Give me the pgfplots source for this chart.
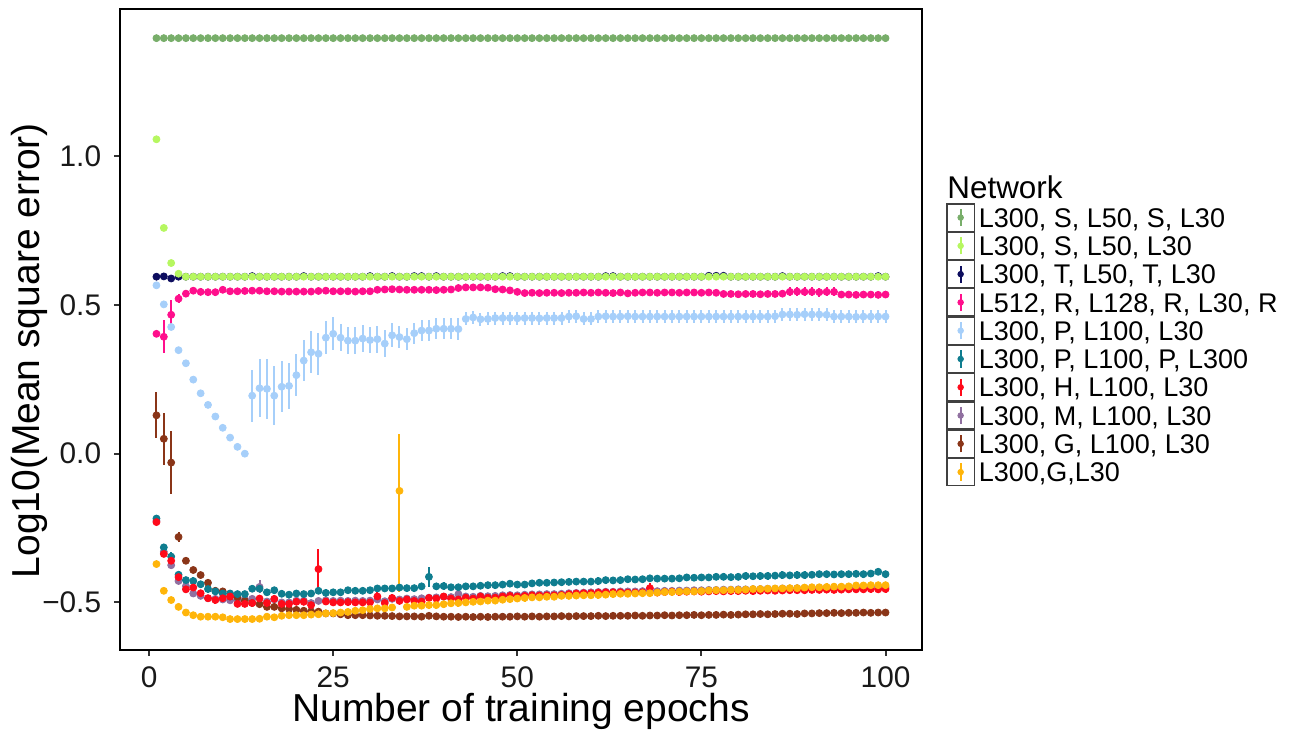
\documentclass[border=0pt]{standalone}
\usepackage{pgfplots}
\pgfplotsset{compat=1.18}
\usepackage{fontspec}
\setmainfont{Liberation Sans}
\definecolor{cGreen}{HTML}{78AE6A}
\definecolor{cLime}{HTML}{B6F760}
\definecolor{cNavy}{HTML}{0D0D5E}
\definecolor{cPink}{HTML}{FF0F8C}
\definecolor{cSky}{HTML}{A6CFFA}
\definecolor{cTeal}{HTML}{0F7D8F}
\definecolor{cRed}{HTML}{FF0A1A}
\definecolor{cPurple}{HTML}{9070A0}
\definecolor{cBrown}{HTML}{8A3518}
\definecolor{cOrange}{HTML}{FFB50A}
\pgfplotsset{
  keybox/.style={legend image code/.code={
    \draw[black!75, line width=0.6pt, fill=white] (0pt,-6.77pt) rectangle (13.6pt,6.77pt);
    \draw[line width=1pt] (6.8pt,-4.3pt) -- (6.8pt,4.3pt);
    \fill (6.8pt,0pt) circle (1.4pt);}},
  pt/.style={only marks, mark=*, mark size=1.75pt, forget plot},
  pr/.style={pt, error bars/y dir=both, error bars/y explicit, error bars/error mark=none,
    error bars/error bar style={line width=1pt}},
}
\begin{document}
\begin{tikzpicture}
\useasboundingbox (0,0) rectangle (646pt,368pt);
\begin{axis}[
  at={(60pt,43pt)}, anchor=south west,
  scale only axis, width=401pt, height=320.5pt,
  xmin=-3.95, xmax=104.95, ymin=-0.66, ymax=1.495,
  xtick={0,25,50,75,100}, xticklabels={0,25,50,75,100},
  ytick={-0.5,0,0.5,1.0}, yticklabels={−0.5,0.0,0.5,1.0},
  tick align=outside, major tick length=2.75pt,
  tick style={line width=1pt, black!80},
  axis line style={line width=1pt, black},
  xtick pos=bottom, ytick pos=left,
  ticklabel style={font=\fontsize{14.9}{15}\selectfont, text=black!90},
  xticklabel style={inner sep=0pt, anchor=north, yshift=-5.5pt},
  yticklabel style={inner sep=0pt, anchor=east, xshift=-6.5pt},
  xlabel={Number of training epochs},
  ylabel={Log10(Mean square error)},
  every axis x label/.style={at={(rel axis cs:0.5,-0.1123)}, anchor=base,
    font=\fontsize{19.5}{20}\selectfont},
  every axis y label/.style={at={(rel axis cs:-0.0998,0.467)}, rotate=90, anchor=base,
    font=\fontsize{19.5}{20}\selectfont},
  legend style={at={(rel axis cs:1.030,0.6973)}, anchor=north west, draw=none, fill=none,
    inner sep=0pt, row sep=0pt,
    nodes={inner xsep=2pt, inner ysep=0pt, text height=9.7pt, text depth=0pt,
      font=\fontsize{13.5}{14}\selectfont}},
  legend cell align=left,
]
\addlegendimage{keybox, color=cGreen}
\addlegendimage{keybox, color=cLime}
\addlegendimage{keybox, color=cNavy}
\addlegendimage{keybox, color=cPink}
\addlegendimage{keybox, color=cSky}
\addlegendimage{keybox, color=cTeal}
\addlegendimage{keybox, color=cRed}
\addlegendimage{keybox, color=cPurple}
\addlegendimage{keybox, color=cBrown}
\addlegendimage{keybox, color=cOrange}
\legend{{L300, S, L50, S, L30},{L300, S, L50, L30},{L300, T, L50, T, L30},{L512, R, L128, R, L30, R},{L300, P, L100, L30},{L300, P, L100, P, L300},{L300, H, L100, L30},{L300, M, L100, L30},{L300, G, L100, L30},{L300,G,L30}}

% L300, S, L50, S, L30
\addplot[pt, color=cGreen] coordinates {
(1,1.397) (2,1.397) (3,1.397) (4,1.397) (5,1.397) (6,1.397) (7,1.397) (8,1.397) (9,1.397) (10,1.397)
(11,1.397) (12,1.397) (13,1.397) (14,1.397) (15,1.397) (16,1.397) (17,1.397) (18,1.397) (19,1.397) (20,1.397)
(21,1.397) (22,1.397) (23,1.397) (24,1.397) (25,1.397) (26,1.397) (27,1.397) (28,1.397) (29,1.397) (30,1.397)
(31,1.397) (32,1.397) (33,1.397) (34,1.397) (35,1.397) (36,1.397) (37,1.397) (38,1.397) (39,1.397) (40,1.397)
(41,1.397) (42,1.397) (43,1.397) (44,1.397) (45,1.397) (46,1.397) (47,1.397) (48,1.397) (49,1.397) (50,1.397)
(51,1.397) (52,1.397) (53,1.397) (54,1.397) (55,1.397) (56,1.397) (57,1.397) (58,1.397) (59,1.397) (60,1.397)
(61,1.397) (62,1.397) (63,1.397) (64,1.397) (65,1.397) (66,1.397) (67,1.397) (68,1.397) (69,1.397) (70,1.397)
(71,1.397) (72,1.397) (73,1.397) (74,1.397) (75,1.397) (76,1.397) (77,1.397) (78,1.397) (79,1.397) (80,1.397)
(81,1.397) (82,1.397) (83,1.397) (84,1.397) (85,1.397) (86,1.397) (87,1.397) (88,1.397) (89,1.397) (90,1.397)
(91,1.397) (92,1.397) (93,1.397) (94,1.397) (95,1.397) (96,1.397) (97,1.397) (98,1.397) (99,1.397) (100,1.397)
};

% L300, T, L50, T, L30
\addplot[pt, color=cNavy] coordinates {
(1,0.595) (2,0.596) (3,0.589) (4,0.595) (5,0.595) (6,0.595) (7,0.595) (8,0.595) (9,0.595) (10,0.595)
(11,0.595) (12,0.595) (13,0.595) (14,0.597) (15,0.595) (16,0.595) (17,0.595) (18,0.595) (19,0.595) (20,0.595)
(21,0.597) (22,0.595) (23,0.595) (24,0.595) (25,0.595) (26,0.595) (27,0.595) (28,0.595) (29,0.595) (30,0.597)
(31,0.595) (32,0.595) (33,0.597) (34,0.595) (35,0.595) (36,0.597) (37,0.597) (38,0.595) (39,0.597) (40,0.595)
(41,0.595) (42,0.595) (43,0.595) (44,0.595) (45,0.595) (46,0.595) (47,0.595) (48,0.597) (49,0.597) (50,0.595)
(51,0.595) (52,0.595) (53,0.595) (54,0.595) (55,0.595) (56,0.595) (57,0.595) (58,0.595) (59,0.595) (60,0.595)
(61,0.595) (62,0.597) (63,0.597) (64,0.595) (65,0.595) (66,0.595) (67,0.595) (68,0.595) (69,0.595) (70,0.595)
(71,0.595) (72,0.595) (73,0.595) (74,0.595) (75,0.595) (76,0.598) (77,0.598) (78,0.598) (79,0.595) (80,0.595)
(81,0.595) (82,0.595) (83,0.595) (84,0.595) (85,0.595) (86,0.597) (87,0.595) (88,0.595) (89,0.595) (90,0.595)
(91,0.595) (92,0.595) (93,0.595) (94,0.595) (95,0.595) (96,0.595) (97,0.595) (98,0.595) (99,0.597) (100,0.595)
};

% L300, S, L50, L30
\addplot[pt, color=cLime] coordinates {
(1,1.057) (2,0.759) (3,0.641) (4,0.605) (5,0.595) (6,0.595) (7,0.595) (8,0.595) (9,0.595) (10,0.595)
(11,0.595) (12,0.595) (13,0.595) (14,0.595) (15,0.595) (16,0.595) (17,0.595) (18,0.595) (19,0.595) (20,0.595)
(21,0.595) (22,0.595) (23,0.595) (24,0.595) (25,0.595) (26,0.595) (27,0.595) (28,0.595) (29,0.595) (30,0.595)
(31,0.595) (32,0.595) (33,0.595) (34,0.595) (35,0.595) (36,0.595) (37,0.595) (38,0.595) (39,0.595) (40,0.595)
(41,0.595) (42,0.595) (43,0.595) (44,0.595) (45,0.595) (46,0.595) (47,0.595) (48,0.595) (49,0.595) (50,0.595)
(51,0.595) (52,0.595) (53,0.595) (54,0.595) (55,0.595) (56,0.595) (57,0.595) (58,0.595) (59,0.595) (60,0.595)
(61,0.595) (62,0.595) (63,0.595) (64,0.595) (65,0.595) (66,0.595) (67,0.595) (68,0.595) (69,0.595) (70,0.595)
(71,0.595) (72,0.595) (73,0.595) (74,0.595) (75,0.595) (76,0.595) (77,0.595) (78,0.595) (79,0.595) (80,0.595)
(81,0.595) (82,0.595) (83,0.595) (84,0.595) (85,0.595) (86,0.595) (87,0.595) (88,0.595) (89,0.595) (90,0.595)
(91,0.595) (92,0.595) (93,0.595) (94,0.595) (95,0.595) (96,0.595) (97,0.595) (98,0.595) (99,0.595) (100,0.595)
};

% L512, R, L128, R, L30, R
\addplot[pr, color=cPink] coordinates {
(1,0.403) +- (0,0) (2,0.393) +- (0,0.056) (3,0.467) +- (0,0.049) (4,0.521) +- (0,0.015) (5,0.538) +- (0,0.012)
(6,0.548) +- (0,0.012) (7,0.544) +- (0,0.012) (8,0.543) +- (0,0.012) (9,0.543) +- (0,0.012) (10,0.551) +- (0,0.012)
(11,0.546) +- (0,0.01) (12,0.546) +- (0,0.01) (13,0.547) +- (0,0.01) (14,0.548) +- (0,0.01) (15,0.548) +- (0,0.01)
(16,0.546) +- (0,0.01) (17,0.546) +- (0,0.01) (18,0.545) +- (0,0.01) (19,0.545) +- (0,0.01) (20,0.545) +- (0,0.01)
(21,0.545) +- (0,0.01) (22,0.545) +- (0,0.01) (23,0.547) +- (0,0.01) (24,0.548) +- (0,0.01) (25,0.546) +- (0,0.01)
(26,0.546) +- (0,0.01) (27,0.546) +- (0,0.01) (28,0.545) +- (0,0.01) (29,0.546) +- (0,0.01) (30,0.546) +- (0,0.01)
(31,0.551) +- (0,0.01) (32,0.552) +- (0,0.01) (33,0.553) +- (0,0.01) (34,0.552) +- (0,0.01) (35,0.551) +- (0,0.01)
(36,0.551) +- (0,0.01) (37,0.551) +- (0,0.01) (38,0.551) +- (0,0.01) (39,0.550) +- (0,0.01) (40,0.551) +- (0,0.01)
(41,0.552) +- (0,0.01) (42,0.557) +- (0,0.01) (43,0.559) +- (0,0.01) (44,0.559) +- (0,0.01) (45,0.559) +- (0,0.01)
(46,0.558) +- (0,0.01) (47,0.553) +- (0,0.01) (48,0.552) +- (0,0.01) (49,0.549) +- (0,0.01) (50,0.544) +- (0,0.01)
(51,0.540) +- (0,0.01) (52,0.541) +- (0,0.01) (53,0.540) +- (0,0.01) (54,0.541) +- (0,0.01) (55,0.541) +- (0,0.01)
(56,0.540) +- (0,0.01) (57,0.541) +- (0,0.01) (58,0.541) +- (0,0.01) (59,0.542) +- (0,0.01) (60,0.541) +- (0,0.01)
(61,0.542) +- (0,0.01) (62,0.541) +- (0,0.01) (63,0.540) +- (0,0.01) (64,0.542) +- (0,0.01) (65,0.539) +- (0,0.01)
(66,0.541) +- (0,0.01) (67,0.542) +- (0,0.01) (68,0.542) +- (0,0.01) (69,0.541) +- (0,0.01) (70,0.542) +- (0,0.01)
(71,0.542) +- (0,0.01) (72,0.541) +- (0,0.01) (73,0.542) +- (0,0.01) (74,0.542) +- (0,0.01) (75,0.541) +- (0,0.01)
(76,0.542) +- (0,0.01) (77,0.541) +- (0,0.01) (78,0.537) +- (0,0.01) (79,0.537) +- (0,0.01) (80,0.536) +- (0,0.01)
(81,0.537) +- (0,0.01) (82,0.537) +- (0,0.01) (83,0.536) +- (0,0.01) (84,0.537) +- (0,0.01) (85,0.537) +- (0,0.01)
(86,0.538) +- (0,0.01) (87,0.544) +- (0,0.015) (88,0.545) +- (0,0.015) (89,0.544) +- (0,0.015) (90,0.544) +- (0,0.015)
(91,0.543) +- (0,0.015) (92,0.544) +- (0,0.015) (93,0.544) +- (0,0.015) (94,0.535) +- (0,0.01) (95,0.535) +- (0,0.01)
(96,0.534) +- (0,0.01) (97,0.535) +- (0,0.01) (98,0.535) +- (0,0.01) (99,0.534) +- (0,0.01) (100,0.535) +- (0,0.01)
};

% L300, P, L100, L30
\addplot[pr, color=cSky] coordinates {
(1,0.566) +- (0,0) (2,0.502) +- (0,0) (3,0.426) +- (0,0) (4,0.348) +- (0,0) (5,0.304) +- (0,0)
(6,0.249) +- (0,0) (7,0.203) +- (0,0) (8,0.164) +- (0,0) (9,0.125) +- (0,0) (10,0.087) +- (0,0)
(11,0.054) +- (0,0) (12,0.023) +- (0,0) (13,0.000) +- (0,0) (14,0.195) +- (0,0.087) (15,0.220) +- (0,0.097)
(16,0.218) +- (0,0.100) (17,0.195) +- (0,0.100) (18,0.225) +- (0,0.085) (19,0.228) +- (0,0.078) (20,0.264) +- (0,0.070)
(21,0.313) +- (0,0.070) (22,0.341) +- (0,0.070) (23,0.336) +- (0,0.070) (24,0.390) +- (0,0.055) (25,0.403) +- (0,0.055)
(26,0.390) +- (0,0.045) (27,0.380) +- (0,0.045) (28,0.380) +- (0,0.045) (29,0.387) +- (0,0.045) (30,0.382) +- (0,0.045)
(31,0.385) +- (0,0.045) (32,0.370) +- (0,0.045) (33,0.398) +- (0,0.040) (34,0.392) +- (0,0.036) (35,0.385) +- (0,0.036)
(36,0.405) +- (0,0.036) (37,0.414) +- (0,0.036) (38,0.414) +- (0,0.036) (39,0.420) +- (0,0.036) (40,0.420) +- (0,0.036)
(41,0.420) +- (0,0.036) (42,0.419) +- (0,0.036) (43,0.453) +- (0,0.022) (44,0.458) +- (0,0.022) (45,0.452) +- (0,0.022)
(46,0.453) +- (0,0.022) (47,0.456) +- (0,0.022) (48,0.456) +- (0,0.022) (49,0.456) +- (0,0.022) (50,0.455) +- (0,0.022)
(51,0.456) +- (0,0.022) (52,0.456) +- (0,0.022) (53,0.455) +- (0,0.022) (54,0.456) +- (0,0.022) (55,0.456) +- (0,0.022)
(56,0.456) +- (0,0.022) (57,0.461) +- (0,0.022) (58,0.462) +- (0,0.022) (59,0.453) +- (0,0.022) (60,0.453) +- (0,0.022)
(61,0.461) +- (0,0.022) (62,0.462) +- (0,0.022) (63,0.461) +- (0,0.022) (64,0.461) +- (0,0.022) (65,0.462) +- (0,0.022)
(66,0.461) +- (0,0.022) (67,0.461) +- (0,0.022) (68,0.461) +- (0,0.022) (69,0.461) +- (0,0.022) (70,0.461) +- (0,0.022)
(71,0.461) +- (0,0.022) (72,0.461) +- (0,0.022) (73,0.461) +- (0,0.022) (74,0.461) +- (0,0.022) (75,0.461) +- (0,0.022)
(76,0.461) +- (0,0.022) (77,0.461) +- (0,0.022) (78,0.461) +- (0,0.022) (79,0.461) +- (0,0.022) (80,0.461) +- (0,0.022)
(81,0.461) +- (0,0.022) (82,0.461) +- (0,0.022) (83,0.461) +- (0,0.022) (84,0.461) +- (0,0.022) (85,0.462) +- (0,0.022)
(86,0.468) +- (0,0.022) (87,0.468) +- (0,0.022) (88,0.467) +- (0,0.022) (89,0.469) +- (0,0.022) (90,0.468) +- (0,0.022)
(91,0.468) +- (0,0.022) (92,0.467) +- (0,0.022) (93,0.461) +- (0,0.022) (94,0.461) +- (0,0.022) (95,0.461) +- (0,0.022)
(96,0.460) +- (0,0.022) (97,0.461) +- (0,0.022) (98,0.461) +- (0,0.022) (99,0.461) +- (0,0.022) (100,0.461) +- (0,0.022)
};

% L300, M, L100, L30
\addplot[pr, color=cPurple] coordinates {
(1,-0.226) +- (0,0.005) (2,-0.330) +- (0,0.01) (3,-0.375) +- (0,0.012) (4,-0.428) +- (0,0.01) (5,-0.445) +- (0,0.01)
(6,-0.470) +- (0,0.01) (7,-0.478) +- (0,0.01) (8,-0.486) +- (0,0.01) (9,-0.488) +- (0,0.01) (10,-0.490) +- (0,0.01)
(11,-0.493) +- (0,0.01) (12,-0.490) +- (0,0.01) (13,-0.490) +- (0,0.01) (14,-0.488) +- (0,0.01) (15,-0.448) +- (0,0.022)
(16,-0.497) +- (0,0.01) (17,-0.490) +- (0,0.01) (18,-0.500) +- (0,0.01) (19,-0.500) +- (0,0.01) (20,-0.494) +- (0,0.01)
(21,-0.494) +- (0,0.01) (22,-0.502) +- (0,0.01) (23,-0.495) +- (0,0.01) (24,-0.493) +- (0,0.01) (25,-0.495) +- (0,0.01)
(26,-0.494) +- (0,0.01) (27,-0.495) +- (0,0.01) (28,-0.494) +- (0,0.01) (29,-0.495) +- (0,0.01) (30,-0.494) +- (0,0.01)
(31,-0.490) +- (0,0.01) (32,-0.496) +- (0,0.01) (33,-0.488) +- (0,0.01) (34,-0.490) +- (0,0.01) (35,-0.487) +- (0,0.01)
(36,-0.489) +- (0,0.01) (37,-0.486) +- (0,0.01) (38,-0.484) +- (0,0.01) (39,-0.483) +- (0,0.01) (40,-0.481) +- (0,0.01)
(41,-0.482) +- (0,0.01) (42,-0.472) +- (0,0.01) (43,-0.480) +- (0,0.01) (44,-0.481) +- (0,0.01) (45,-0.478) +- (0,0.01)
(46,-0.479) +- (0,0.01) (47,-0.478) +- (0,0.01) (48,-0.476) +- (0,0.01) (49,-0.475) +- (0,0.01) (50,-0.476) +- (0,0.01)
(51,-0.474) +- (0,0.01) (52,-0.473) +- (0,0.01) (53,-0.473) +- (0,0.01) (54,-0.472) +- (0,0.01) (55,-0.472) +- (0,0.01)
(56,-0.471) +- (0,0.01) (57,-0.469) +- (0,0.01) (58,-0.468) +- (0,0.01) (59,-0.467) +- (0,0.01) (60,-0.466) +- (0,0.01)
(61,-0.465) +- (0,0.01) (62,-0.464) +- (0,0.01) (63,-0.464) +- (0,0.01) (64,-0.463) +- (0,0.01) (65,-0.463) +- (0,0.01)
(66,-0.463) +- (0,0.01) (67,-0.462) +- (0,0.01) (68,-0.460) +- (0,0.01) (69,-0.462) +- (0,0.01) (70,-0.461) +- (0,0.01)
(71,-0.461) +- (0,0.01) (72,-0.460) +- (0,0.01) (73,-0.460) +- (0,0.01) (74,-0.459) +- (0,0.01) (75,-0.459) +- (0,0.01)
(76,-0.458) +- (0,0.01) (77,-0.458) +- (0,0.01) (78,-0.457) +- (0,0.01) (79,-0.457) +- (0,0.01) (80,-0.456) +- (0,0.01)
(81,-0.456) +- (0,0.01) (82,-0.455) +- (0,0.01) (83,-0.455) +- (0,0.01) (84,-0.454) +- (0,0.01) (85,-0.454) +- (0,0.01)
(86,-0.453) +- (0,0.01) (87,-0.453) +- (0,0.01) (88,-0.452) +- (0,0.01) (89,-0.452) +- (0,0.01) (90,-0.451) +- (0,0.01)
(91,-0.451) +- (0,0.01) (92,-0.450) +- (0,0.01) (93,-0.450) +- (0,0.01) (94,-0.449) +- (0,0.01) (95,-0.449) +- (0,0.01)
(96,-0.449) +- (0,0.01) (97,-0.448) +- (0,0.01) (98,-0.448) +- (0,0.01) (99,-0.448) +- (0,0.01) (100,-0.448) +- (0,0.01)
};

% L300, G, L100, L30
\addplot[pr, color=cBrown] coordinates {
(1,0.129) +- (0,0.077) (2,0.050) +- (0,0.088) (3,-0.030) +- (0,0.105) (4,-0.280) +- (0,0.017) (5,-0.360) +- (0,0.006)
(6,-0.391) +- (0,0.005) (7,-0.408) +- (0,0.005) (8,-0.434) +- (0,0.005) (9,-0.461) +- (0,0.005) (10,-0.463) +- (0,0.005)
(11,-0.480) +- (0,0.005) (12,-0.483) +- (0,0.005) (13,-0.495) +- (0,0.005) (14,-0.502) +- (0,0.005) (15,-0.506) +- (0,0.005)
(16,-0.515) +- (0,0.005) (17,-0.515) +- (0,0.005) (18,-0.520) +- (0,0.005) (19,-0.522) +- (0,0.005) (20,-0.525) +- (0,0.005)
(21,-0.528) +- (0,0.005) (22,-0.530) +- (0,0.005) (23,-0.531) +- (0,0.005) (24,-0.537) +- (0,0.005) (25,-0.537) +- (0,0.005)
(26,-0.540) +- (0,0.005) (27,-0.543) +- (0,0.005) (28,-0.543) +- (0,0.005) (29,-0.543) +- (0,0.005) (30,-0.544) +- (0,0.005)
(31,-0.545) +- (0,0.005) (32,-0.545) +- (0,0.005) (33,-0.546) +- (0,0.005) (34,-0.547) +- (0,0.005) (35,-0.547) +- (0,0.005)
(36,-0.547) +- (0,0.005) (37,-0.548) +- (0,0.005) (38,-0.545) +- (0,0.005) (39,-0.547) +- (0,0.005) (40,-0.548) +- (0,0.005)
(41,-0.548) +- (0,0.005) (42,-0.549) +- (0,0.005) (43,-0.548) +- (0,0.005) (44,-0.549) +- (0,0.005) (45,-0.548) +- (0,0.005)
(46,-0.549) +- (0,0.005) (47,-0.548) +- (0,0.005) (48,-0.548) +- (0,0.005) (49,-0.548) +- (0,0.005) (50,-0.547) +- (0,0.005)
(51,-0.548) +- (0,0.005) (52,-0.547) +- (0,0.005) (53,-0.548) +- (0,0.005) (54,-0.547) +- (0,0.005) (55,-0.547) +- (0,0.005)
(56,-0.546) +- (0,0.005) (57,-0.547) +- (0,0.005) (58,-0.546) +- (0,0.005) (59,-0.546) +- (0,0.005) (60,-0.546) +- (0,0.005)
(61,-0.545) +- (0,0.005) (62,-0.546) +- (0,0.005) (63,-0.545) +- (0,0.005) (64,-0.545) +- (0,0.005) (65,-0.545) +- (0,0.005)
(66,-0.544) +- (0,0.005) (67,-0.545) +- (0,0.005) (68,-0.544) +- (0,0.005) (69,-0.544) +- (0,0.005) (70,-0.543) +- (0,0.005)
(71,-0.544) +- (0,0.005) (72,-0.543) +- (0,0.005) (73,-0.543) +- (0,0.005) (74,-0.542) +- (0,0.005) (75,-0.543) +- (0,0.005)
(76,-0.542) +- (0,0.005) (77,-0.542) +- (0,0.005) (78,-0.541) +- (0,0.005) (79,-0.542) +- (0,0.005) (80,-0.541) +- (0,0.005)
(81,-0.540) +- (0,0.005) (82,-0.540) +- (0,0.005) (83,-0.539) +- (0,0.005) (84,-0.540) +- (0,0.005) (85,-0.539) +- (0,0.005)
(86,-0.538) +- (0,0.005) (87,-0.538) +- (0,0.005) (88,-0.539) +- (0,0.005) (89,-0.537) +- (0,0.005) (90,-0.537) +- (0,0.005)
(91,-0.536) +- (0,0.005) (92,-0.536) +- (0,0.005) (93,-0.535) +- (0,0.005) (94,-0.536) +- (0,0.005) (95,-0.535) +- (0,0.005)
(96,-0.535) +- (0,0.005) (97,-0.534) +- (0,0.005) (98,-0.535) +- (0,0.005) (99,-0.534) +- (0,0.005) (100,-0.534) +- (0,0.005)
};

% L300, P, L100, P, L300
\addplot[pr, color=cTeal] coordinates {
(1,-0.218) +- (0,0.008) (2,-0.315) +- (0,0.012) (3,-0.346) +- (0,0.015) (4,-0.407) +- (0,0.012) (5,-0.425) +- (0,0.012)
(6,-0.428) +- (0,0.012) (7,-0.439) +- (0,0.012) (8,-0.455) +- (0,0.012) (9,-0.463) +- (0,0.012) (10,-0.470) +- (0,0.012)
(11,-0.470) +- (0,0.012) (12,-0.472) +- (0,0.012) (13,-0.472) +- (0,0.012) (14,-0.454) +- (0,0.012) (15,-0.454) +- (0,0.012)
(16,-0.466) +- (0,0.012) (17,-0.459) +- (0,0.012) (18,-0.471) +- (0,0.012) (19,-0.474) +- (0,0.012) (20,-0.470) +- (0,0.012)
(21,-0.472) +- (0,0.012) (22,-0.470) +- (0,0.012) (23,-0.461) +- (0,0.012) (24,-0.468) +- (0,0.012) (25,-0.466) +- (0,0.012)
(26,-0.466) +- (0,0.012) (27,-0.459) +- (0,0.012) (28,-0.461) +- (0,0.012) (29,-0.461) +- (0,0.012) (30,-0.459) +- (0,0.012)
(31,-0.453) +- (0,0.012) (32,-0.453) +- (0,0.012) (33,-0.453) +- (0,0.012) (34,-0.450) +- (0,0.012) (35,-0.452) +- (0,0.012)
(36,-0.452) +- (0,0.012) (37,-0.446) +- (0,0.012) (38,-0.414) +- (0,0.034) (39,-0.446) +- (0,0.012) (40,-0.445) +- (0,0.012)
(41,-0.449) +- (0,0.012) (42,-0.449) +- (0,0.012) (43,-0.446) +- (0,0.012) (44,-0.446) +- (0,0.012) (45,-0.444) +- (0,0.012)
(46,-0.442) +- (0,0.012) (47,-0.442) +- (0,0.012) (48,-0.440) +- (0,0.012) (49,-0.437) +- (0,0.012) (50,-0.440) +- (0,0.012)
(51,-0.440) +- (0,0.012) (52,-0.436) +- (0,0.012) (53,-0.434) +- (0,0.012) (54,-0.434) +- (0,0.012) (55,-0.433) +- (0,0.012)
(56,-0.432) +- (0,0.012) (57,-0.431) +- (0,0.012) (58,-0.430) +- (0,0.012) (59,-0.430) +- (0,0.012) (60,-0.430) +- (0,0.012)
(61,-0.428) +- (0,0.012) (62,-0.425) +- (0,0.012) (63,-0.426) +- (0,0.012) (64,-0.425) +- (0,0.012) (65,-0.422) +- (0,0.012)
(66,-0.423) +- (0,0.012) (67,-0.422) +- (0,0.012) (68,-0.419) +- (0,0.012) (69,-0.420) +- (0,0.012) (70,-0.420) +- (0,0.012)
(71,-0.420) +- (0,0.012) (72,-0.419) +- (0,0.012) (73,-0.416) +- (0,0.012) (74,-0.417) +- (0,0.012) (75,-0.416) +- (0,0.012)
(76,-0.416) +- (0,0.012) (77,-0.414) +- (0,0.012) (78,-0.414) +- (0,0.012) (79,-0.415) +- (0,0.012) (80,-0.414) +- (0,0.012)
(81,-0.411) +- (0,0.012) (82,-0.412) +- (0,0.012) (83,-0.411) +- (0,0.012) (84,-0.411) +- (0,0.012) (85,-0.410) +- (0,0.012)
(86,-0.408) +- (0,0.012) (87,-0.409) +- (0,0.012) (88,-0.408) +- (0,0.012) (89,-0.408) +- (0,0.012) (90,-0.407) +- (0,0.012)
(91,-0.405) +- (0,0.012) (92,-0.405) +- (0,0.012) (93,-0.406) +- (0,0.012) (94,-0.405) +- (0,0.012) (95,-0.405) +- (0,0.012)
(96,-0.404) +- (0,0.012) (97,-0.405) +- (0,0.012) (98,-0.403) +- (0,0.012) (99,-0.397) +- (0,0.012) (100,-0.405) +- (0,0.012)
};

% L300, H, L100, L30
\addplot[pr, color=cRed] coordinates {
(1,-0.230) +- (0,0.006) (2,-0.337) +- (0,0.012) (3,-0.360) +- (0,0.020) (4,-0.415) +- (0,0.012) (5,-0.456) +- (0,0.012)
(6,-0.450) +- (0,0.020) (7,-0.469) +- (0,0.012) (8,-0.486) +- (0,0.012) (9,-0.492) +- (0,0.012) (10,-0.486) +- (0,0.012)
(11,-0.480) +- (0,0.012) (12,-0.505) +- (0,0.012) (13,-0.505) +- (0,0.012) (14,-0.502) +- (0,0.012) (15,-0.487) +- (0,0.012)
(16,-0.502) +- (0,0.012) (17,-0.488) +- (0,0.012) (18,-0.505) +- (0,0.012) (19,-0.505) +- (0,0.012) (20,-0.498) +- (0,0.012)
(21,-0.498) +- (0,0.012) (22,-0.509) +- (0,0.012) (23,-0.388) +- (0,0.068) (24,-0.497) +- (0,0.012) (25,-0.500) +- (0,0.012)
(26,-0.500) +- (0,0.012) (27,-0.499) +- (0,0.012) (28,-0.500) +- (0,0.012) (29,-0.500) +- (0,0.012) (30,-0.500) +- (0,0.012)
(31,-0.480) +- (0,0.020) (32,-0.502) +- (0,0.012) (33,-0.485) +- (0,0.012) (34,-0.495) +- (0,0.012) (35,-0.490) +- (0,0.012)
(36,-0.495) +- (0,0.012) (37,-0.497) +- (0,0.012) (38,-0.485) +- (0,0.012) (39,-0.487) +- (0,0.012) (40,-0.480) +- (0,0.012)
(41,-0.487) +- (0,0.012) (42,-0.490) +- (0,0.012) (43,-0.484) +- (0,0.012) (44,-0.487) +- (0,0.012) (45,-0.480) +- (0,0.012)
(46,-0.484) +- (0,0.012) (47,-0.484) +- (0,0.012) (48,-0.480) +- (0,0.012) (49,-0.478) +- (0,0.012) (50,-0.480) +- (0,0.012)
(51,-0.478) +- (0,0.012) (52,-0.476) +- (0,0.012) (53,-0.477) +- (0,0.012) (54,-0.476) +- (0,0.012) (55,-0.476) +- (0,0.012)
(56,-0.475) +- (0,0.012) (57,-0.472) +- (0,0.012) (58,-0.470) +- (0,0.012) (59,-0.469) +- (0,0.012) (60,-0.469) +- (0,0.012)
(61,-0.467) +- (0,0.012) (62,-0.466) +- (0,0.012) (63,-0.466) +- (0,0.012) (64,-0.466) +- (0,0.012) (65,-0.467) +- (0,0.012)
(66,-0.467) +- (0,0.012) (67,-0.466) +- (0,0.012) (68,-0.452) +- (0,0.016) (69,-0.467) +- (0,0.012) (70,-0.465) +- (0,0.012)
(71,-0.464) +- (0,0.012) (72,-0.465) +- (0,0.012) (73,-0.464) +- (0,0.012) (74,-0.463) +- (0,0.012) (75,-0.464) +- (0,0.012)
(76,-0.463) +- (0,0.012) (77,-0.462) +- (0,0.012) (78,-0.463) +- (0,0.012) (79,-0.462) +- (0,0.012) (80,-0.462) +- (0,0.012)
(81,-0.461) +- (0,0.012) (82,-0.462) +- (0,0.012) (83,-0.461) +- (0,0.012) (84,-0.460) +- (0,0.012) (85,-0.461) +- (0,0.012)
(86,-0.460) +- (0,0.012) (87,-0.459) +- (0,0.012) (88,-0.459) +- (0,0.012) (89,-0.459) +- (0,0.012) (90,-0.458) +- (0,0.012)
(91,-0.458) +- (0,0.012) (92,-0.457) +- (0,0.012) (93,-0.458) +- (0,0.012) (94,-0.457) +- (0,0.012) (95,-0.456) +- (0,0.012)
(96,-0.456) +- (0,0.012) (97,-0.456) +- (0,0.012) (98,-0.455) +- (0,0.012) (99,-0.456) +- (0,0.012) (100,-0.455) +- (0,0.012)
};

% L300,G,L30
\addplot[pr, color=cOrange] coordinates {
(1,-0.371) +- (0,0.004) (2,-0.461) +- (0,0.004) (3,-0.492) +- (0,0.004) (4,-0.515) +- (0,0.004) (5,-0.534) +- (0,0.004)
(6,-0.543) +- (0,0.004) (7,-0.548) +- (0,0.004) (8,-0.548) +- (0,0.004) (9,-0.548) +- (0,0.004) (10,-0.550) +- (0,0.004)
(11,-0.556) +- (0,0.004) (12,-0.556) +- (0,0.004) (13,-0.556) +- (0,0.004) (14,-0.556) +- (0,0.004) (15,-0.555) +- (0,0.004)
(16,-0.548) +- (0,0.004) (17,-0.550) +- (0,0.004) (18,-0.545) +- (0,0.004) (19,-0.543) +- (0,0.004) (20,-0.543) +- (0,0.004)
(21,-0.543) +- (0,0.004) (22,-0.541) +- (0,0.004) (23,-0.540) +- (0,0.004) (24,-0.537) +- (0,0.004) (25,-0.536) +- (0,0.004)
(26,-0.534) +- (0,0.004) (27,-0.532) +- (0,0.004) (28,-0.528) +- (0,0.004) (29,-0.526) +- (0,0.004) (30,-0.522) +- (0,0.004)
(31,-0.520) +- (0,0.004) (32,-0.520) +- (0,0.004) (33,-0.517) +- (0,0.004) (34,-0.125) += (0,0.190) -= (0,0.340) (35,-0.515) +- (0,0.012)
(36,-0.511) +- (0,0.012) (37,-0.511) +- (0,0.012) (38,-0.509) +- (0,0.012) (39,-0.509) +- (0,0.012) (40,-0.506) +- (0,0.012)
(41,-0.503) +- (0,0.012) (42,-0.502) +- (0,0.012) (43,-0.500) +- (0,0.012) (44,-0.498) +- (0,0.012) (45,-0.497) +- (0,0.012)
(46,-0.494) +- (0,0.012) (47,-0.494) +- (0,0.012) (48,-0.491) +- (0,0.012) (49,-0.489) +- (0,0.012) (50,-0.487) +- (0,0.012)
(51,-0.485) +- (0,0.012) (52,-0.483) +- (0,0.012) (53,-0.483) +- (0,0.012) (54,-0.481) +- (0,0.012) (55,-0.481) +- (0,0.012)
(56,-0.478) +- (0,0.012) (57,-0.478) +- (0,0.012) (58,-0.477) +- (0,0.012) (59,-0.476) +- (0,0.012) (60,-0.476) +- (0,0.012)
(61,-0.475) +- (0,0.012) (62,-0.474) +- (0,0.012) (63,-0.472) +- (0,0.012) (64,-0.471) +- (0,0.012) (65,-0.471) +- (0,0.012)
(66,-0.470) +- (0,0.012) (67,-0.469) +- (0,0.012) (68,-0.469) +- (0,0.012) (69,-0.467) +- (0,0.012) (70,-0.465) +- (0,0.012)
(71,-0.465) +- (0,0.012) (72,-0.464) +- (0,0.012) (73,-0.463) +- (0,0.012) (74,-0.463) +- (0,0.012) (75,-0.462) +- (0,0.012)
(76,-0.460) +- (0,0.012) (77,-0.459) +- (0,0.012) (78,-0.459) +- (0,0.012) (79,-0.458) +- (0,0.012) (80,-0.458) +- (0,0.012)
(81,-0.457) +- (0,0.012) (82,-0.455) +- (0,0.012) (83,-0.455) +- (0,0.012) (84,-0.454) +- (0,0.012) (85,-0.453) +- (0,0.012)
(86,-0.453) +- (0,0.012) (87,-0.452) +- (0,0.012) (88,-0.452) +- (0,0.012) (89,-0.450) +- (0,0.012) (90,-0.449) +- (0,0.012)
(91,-0.449) +- (0,0.012) (92,-0.448) +- (0,0.012) (93,-0.447) +- (0,0.012) (94,-0.447) +- (0,0.012) (95,-0.446) +- (0,0.012)
(96,-0.443) +- (0,0.012) (97,-0.443) +- (0,0.012) (98,-0.442) +- (0,0.012) (99,-0.442) +- (0,0.012) (100,-0.442) +- (0,0.012)
};
\end{axis}
\node[anchor=base west, inner sep=0pt, font=\fontsize{15.7}{16}\selectfont] at (473.5pt,269pt) {Network};
\end{tikzpicture}
\end{document}
